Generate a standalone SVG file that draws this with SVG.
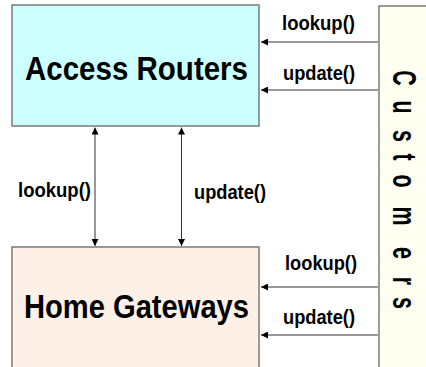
<svg xmlns="http://www.w3.org/2000/svg" width="426" height="367" viewBox="0 0 426 367">
<defs>
<style>
.box{stroke:#7a7a7a;stroke-width:1.5}
.big{font-family:"Liberation Sans",Arial,sans-serif;font-weight:bold;font-size:33px;fill:#000}
.lbl{font-family:"Liberation Sans",Arial,sans-serif;font-weight:bold;font-size:21px;fill:#000}
.cust{font-family:"Liberation Sans",Arial,sans-serif;font-weight:bold;font-size:33px;fill:#000}
.conn{stroke:#333;stroke-width:1;fill:none}
</style>
<marker id="ah" viewBox="0 0 8 8" refX="8" refY="4" markerWidth="7" markerHeight="7" markerUnits="userSpaceOnUse" orient="auto-start-reverse">
<path d="M0,0 L8,4 L0,8 z" fill="#000"/>
</marker>
</defs>
<rect width="426" height="367" fill="#fff"/>
<g id="customers">
<rect class="box" x="379" y="6" width="60" height="380" fill="#fffff2"/>
<text class="cust" transform="translate(393,0) rotate(90) scale(0.65,1)" text-anchor="middle" x="120 164.6 209.2 241.5 278.5 332.3 389.2 432.3 466.2" y="0">Customers</text>
</g>
<g id="access-routers">
<rect class="box" x="12" y="5" width="247" height="121" fill="#ccffff"/>
<text class="big" x="25" y="80" textLength="223" lengthAdjust="spacingAndGlyphs">Access Routers</text>
</g>
<g id="home-gateways">
<rect class="box" x="12" y="247" width="247" height="140" fill="#fdf0e6"/>
<text class="big" x="24" y="318" textLength="225" lengthAdjust="spacingAndGlyphs">Home Gateways</text>
</g>
<g id="connectors">
<line class="conn" x1="378" y1="42" x2="261" y2="42" marker-end="url(#ah)"/>
<line class="conn" x1="378" y1="90" x2="261" y2="90" marker-end="url(#ah)"/>
<line class="conn" x1="378" y1="287" x2="261" y2="287" marker-end="url(#ah)"/>
<line class="conn" x1="378" y1="335" x2="261" y2="335" marker-end="url(#ah)"/>
<line class="conn" x1="95" y1="127.5" x2="95" y2="246" marker-start="url(#ah)" marker-end="url(#ah)"/>
<line class="conn" x1="181.5" y1="127.5" x2="181.5" y2="246" marker-start="url(#ah)" marker-end="url(#ah)"/>
<text class="lbl" x="282" y="30" textLength="73" lengthAdjust="spacingAndGlyphs">lookup()</text>
<text class="lbl" x="283" y="80" textLength="72" lengthAdjust="spacingAndGlyphs">update()</text>
<text class="lbl" x="18" y="197" textLength="73" lengthAdjust="spacingAndGlyphs">lookup()</text>
<text class="lbl" x="194" y="199" textLength="72" lengthAdjust="spacingAndGlyphs">update()</text>
<text class="lbl" x="285" y="270" textLength="72" lengthAdjust="spacingAndGlyphs">lookup()</text>
<text class="lbl" x="283" y="324" textLength="72" lengthAdjust="spacingAndGlyphs">update()</text>
</g>
</svg>
